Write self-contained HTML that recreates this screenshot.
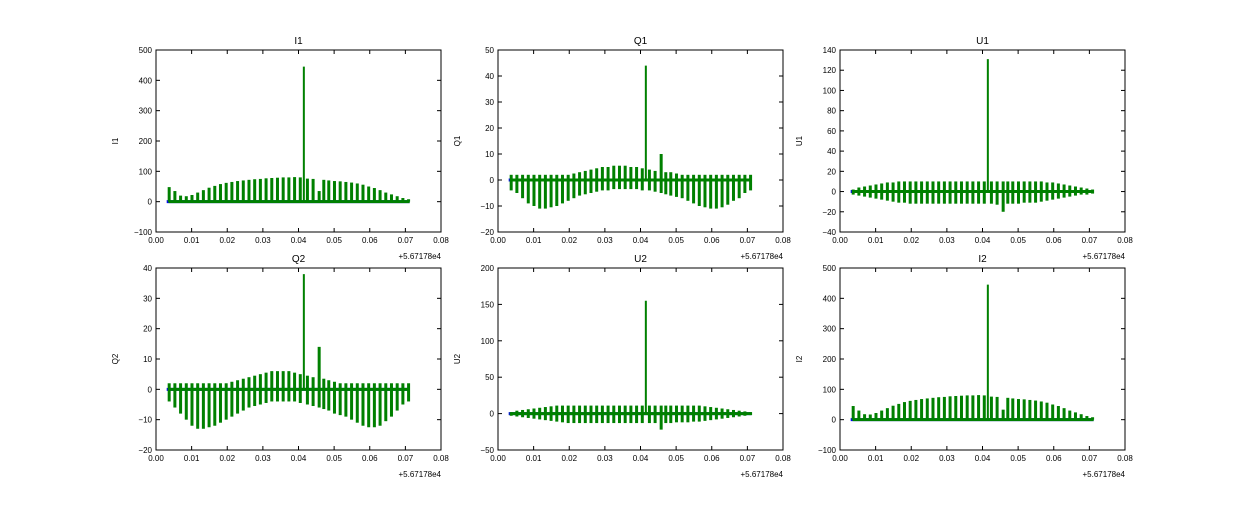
<!DOCTYPE html>
<html><head><meta charset="utf-8"><style>
body{margin:0;background:#fff;}
svg text{font-family:"Liberation Sans",sans-serif;fill:#000;}
</style></head><body>
<svg id="fig" width="1250" height="500" xmlns="http://www.w3.org/2000/svg"></svg>
<script>
const xs=[0.0037,0.0053,0.0069,0.0085,0.0101,0.0117,0.0133,0.0149,0.0165,0.0181,0.0197,0.0213,0.0229,0.0245,0.0261,0.0277,0.0293,0.0309,0.0325,0.0341,0.0357,0.0373,0.0389,0.0405,0.0415,0.0425,0.0441,0.0458,0.0471,0.0485,0.0501,0.0517,0.0533,0.0549,0.0565,0.0581,0.0597,0.0613,0.0629,0.0645,0.0661,0.0677,0.0693,0.0709];
const xTicks=[0,0.01,0.02,0.03,0.04,0.05,0.06,0.07,0.08];
const i1Hi=[48,35,20,18,22,30,38,46,52,58,62,65,68,70,72,74,75,77,78,79,80,80,81,80,445,76,75,35,72,70,68,67,65,63,60,56,50,45,38,30,24,18,12,8];
const i1Lo=[0,0,0,0,0,0,0,0,0,0,0,0,0,0,0,0,0,0,0,0,0,0,0,0,0,0,0,0,0,0,0,0,0,0,0,0,0,0,0,0,0,0,0,0];
const q1Hi=[2,2,2,2,2,2,2,2,2,2,2,2.5,3,3.5,4,4.5,5,5,5.5,5.5,5.5,5,5,4.5,44,4,3.5,10,3,3,2.5,2,2,2,2,2,2,2,2,2,2,2,2,2];
const q1Lo=[-4,-5,-7,-9,-10,-11,-11,-10.5,-10,-9,-8,-7,-6,-5.5,-5,-4.5,-4,-4,-3.5,-3.5,-3.5,-3.5,-3.5,-4,0,-4,-4.5,-5,-5.5,-6,-6.5,-7,-8,-9,-10,-10.5,-11,-11,-10.5,-9.5,-8,-7,-5,-4];
const u1Hi=[2,4,5,6,7,8,9,9,10,10,10,10,10,10,10,10,10,10,10,10,10,10,10,10,131,10,10,10,10,10,10,10,10,10,10,9,9,8,7,6,5,4,3,2];
const u1Lo=[-3,-4,-5,-6,-7,-8,-9,-10,-11,-11,-12,-12,-12,-12,-12,-12,-12,-12,-12,-12,-12,-12,-12,-12,0,-12,-13,-20,-12,-12,-12,-11,-11,-11,-10,-9,-8,-7,-6,-5,-4,-3,-3,-2];
const q2Hi=[2,2,2,2,2,2,2,2,2,2,2,2.5,3,3.5,4,4.5,5,5.5,6,6,6,6,5.5,5,38,4.5,4,14,3.5,3,2.5,2,2,2,2,2,2,2,2,2,2,2,2,2];
const q2Lo=[-4,-6,-8,-10,-12,-13,-13,-12.5,-12,-11,-10,-9,-8,-7,-6,-5.5,-5,-4.5,-4,-4,-4,-4,-4,-4.5,0,-5,-5.5,-6,-6.5,-7,-8,-8.5,-9,-10,-11,-12,-12.5,-12.5,-12,-10.5,-9,-7,-5,-4];
const u2Hi=[2,4,5,6,7,8,9,10,11,11,11,11,11,11,11,11,11,11,11,11,11,11,11,11,155,11,11,11,11,11,11,11,11,11,11,10,9,8,7,6,5,4,3,2];
const u2Lo=[-3,-4,-5,-6,-7,-8,-9,-10,-11,-12,-13,-13,-13,-13,-13,-13,-13,-13,-13,-13,-13,-13,-13,-13,0,-13,-13,-22,-13,-13,-12,-12,-12,-11,-11,-10,-9,-8,-7,-6,-5,-4,-3,-2];
const i2Hi=[45,30,18,17,22,30,38,46,52,58,62,65,68,70,72,74,75,77,78,79,80,80,81,80,445,76,75,33,72,70,68,67,65,63,60,56,50,45,38,30,24,18,12,8];
const i2Lo=i1Lo;
const panels=[
 {name:'I1',x:156,y:50,ymin:-100,ymax:500,ticks:[-100,0,100,200,300,400,500],hi:i1Hi,lo:i1Lo},
 {name:'Q1',x:498,y:50,ymin:-20,ymax:50,ticks:[-20,-10,0,10,20,30,40,50],hi:q1Hi,lo:q1Lo},
 {name:'U1',x:840,y:50,ymin:-40,ymax:140,ticks:[-40,-20,0,20,40,60,80,100,120,140],hi:u1Hi,lo:u1Lo},
 {name:'Q2',x:156,y:268,ymin:-20,ymax:40,ticks:[-20,-10,0,10,20,30,40],hi:q2Hi,lo:q2Lo},
 {name:'U2',x:498,y:268,ymin:-50,ymax:200,ticks:[-50,0,50,100,150,200],hi:u2Hi,lo:u2Lo},
 {name:'I2',x:840,y:268,ymin:-100,ymax:500,ticks:[-100,0,100,200,300,400,500],hi:i2Hi,lo:i2Lo}
];
const NS='http://www.w3.org/2000/svg';
const svg=document.getElementById('fig');
function mk(tag,attrs,parent,text){const e=document.createElementNS(NS,tag);for(const k in attrs)e.setAttribute(k,attrs[k]);if(text!==undefined)e.textContent=text;(parent||svg).appendChild(e);return e;}
const W=285,H=182;
panels.forEach(p=>{
 const g=mk('g',{});
 
 
 const sx=v=>p.x+v/0.08*W;
 const sy=v=>p.y+H-(v-p.ymin)/(p.ymax-p.ymin)*H;
 const bl=mk('line',{x1:sx(0.003),x2:sx(0.0712),y1:sy(0),y2:sy(0),stroke:'#0000ff','stroke-width':3},g);
 
 
 xs.forEach((xv,i)=>{
  const b=mk('line',{x1:sx(xv),x2:sx(xv),y1:sy(p.hi[i]),y2:sy(p.lo[i]),stroke:'#008000','stroke-width':i===24?2:3},g);
  
  
 });
 const gl=mk('line',{x1:sx(0.0035),x2:sx(0.0712),y1:sy(0),y2:sy(0),stroke:'#008000','stroke-width':3},g);
 
 
 const fr=mk('rect',{x:p.x,y:p.y,width:W,height:H,fill:'none',stroke:'#000','stroke-width':1},g);
 
 
 xTicks.forEach(t=>{
  const X=sx(t);
  mk('line',{x1:X,x2:X,y1:p.y+H,y2:p.y+H-4,stroke:'#000'},g);
  mk('line',{x1:X,x2:X,y1:p.y,y2:p.y+4,stroke:'#000'},g);
  const tl=mk('text',{x:X,y:p.y+H+11,'font-size':8,'text-anchor':'middle'},g,t.toFixed(2));
  
  
 });
 p.ticks.forEach(t=>{
  const Y=sy(t);
  mk('line',{x1:p.x,x2:p.x+4,y1:Y,y2:Y,stroke:'#000'},g);
  mk('line',{x1:p.x+W,x2:p.x+W-4,y1:Y,y2:Y,stroke:'#000'},g);
  const tl=mk('text',{x:p.x-4,y:Y+3,'font-size':8,'text-anchor':'end'},g,t<0?'\u2212'+(-t):String(t));
  
  
 });
 const ti=mk('text',{x:p.x+W/2,y:p.y-6,'font-size':10,'text-anchor':'middle'},g,p.name);
 
 
 const yl=mk('text',{x:0,y:0,'font-size':8,'text-anchor':'middle',transform:`translate(${p.x-38},${p.y+H/2}) rotate(-90)`},g,p.name);
 
 
 const off=mk('text',{x:p.x+W,y:p.y+H+27,'font-size':8,'text-anchor':'end'},g,'+5.67178e4');
 
 
});
</script>
</body></html>
